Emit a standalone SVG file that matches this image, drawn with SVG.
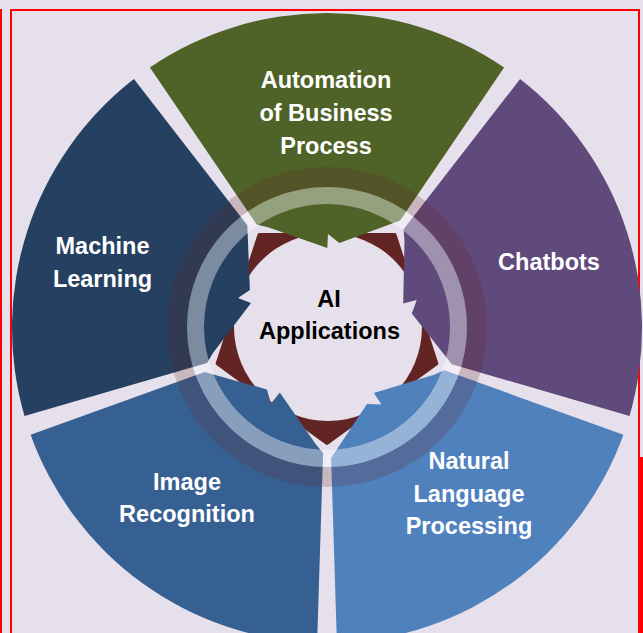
<svg xmlns="http://www.w3.org/2000/svg" width="643" height="633" viewBox="0 0 643 633">
<style>
.lbl{font-family:"Liberation Sans",Arial,sans-serif;font-weight:bold;font-size:23.5px;fill:#ffffff;text-anchor:middle}
.hubtxt{font-family:"Liberation Sans",Arial,sans-serif;font-weight:bold;font-size:23.5px;fill:#000000;text-anchor:middle}
.frame{fill:none;stroke:#ff0000;stroke-width:2}
</style>
<rect x="0" y="0" width="643" height="633" fill="#E6E0EC"/>
<g id="frame">
<rect class="frame" x="11" y="10" width="628" height="640"/>
<line class="frame" x1="1" y1="9" x2="1" y2="633"/>
<rect x="639" y="457" width="4" height="176" fill="#ff0000"/>
</g>
<g id="hub">
<polygon points="436.4,363.5 327,443 217.6,363.5 259.4,235 394.6,235" fill="#632523" stroke="#632523" stroke-width="4" stroke-linejoin="round"/>
<circle cx="328" cy="327" r="94" fill="#E6E0EC"/>
<text class="hubtxt" x="329" y="307">AI</text>
<text class="hubtxt" x="329.5" y="339">Applications</text>
</g>
<g id="machine-learning">
<path d="M24.5,415.9 A315,315 0 0 1 133.9,79.1 L247.3,225.3 L249.9,289.9 L237.9,298 L251,303 L213,353.1 L207,362.9 Z" fill="#254061"/>
<text class="lbl" x="102.5" y="253.5">Machine</text>
<text class="lbl" x="102.5" y="286.5">Learning</text>
</g>
<g id="automation">
<path d="M149.9,67.5 A315,315 0 0 1 504.1,67.5 L400.1,220.5 L339.4,242.9 L328,234 L327.3,248 L268,227.3 L256.7,224.6 Z" fill="#4F6228"/>
<text class="lbl" x="326" y="88">Automation</text>
<text class="lbl" x="326" y="120.5">of Business</text>
<text class="lbl" x="326" y="153.5">Process</text>
</g>
<g id="chatbots">
<path d="M520.1,79.1 A315,315 0 0 1 629.5,415.9 L451.8,364.3 L411.8,313.5 L416.7,299.9 L403.2,303.5 L404.5,240.8 L403.6,229.2 Z" fill="#604A7B"/>
<text class="lbl" x="549" y="270">Chatbots</text>
</g>
<g id="nlp">
<path d="M623.4,434.7 A315,315 0 0 1 336.9,642.8 L331.1,457.9 L367,404.1 L381.5,404.6 L373.8,392.9 L433.9,374.7 L444.6,370.3 Z" fill="#4F81BD"/>
<text class="lbl" x="469" y="469">Natural</text>
<text class="lbl" x="469" y="501.5">Language</text>
<text class="lbl" x="469" y="533.5">Processing</text>
</g>
<g id="image-recognition">
<path d="M317.1,642.8 A315,315 0 0 1 30.6,434.7 L204.7,372 L266.9,389.5 L271,403.5 L279.8,392.6 L315.6,444.1 L323.1,452.9 Z" fill="#376092"/>
<text class="lbl" x="187" y="490">Image</text>
<text class="lbl" x="187" y="522">Recognition</text>
</g>
<g id="ring">
<circle cx="327" cy="327" r="150" fill="none" stroke="#632523" stroke-opacity="0.22" stroke-width="20"/>
<circle cx="327" cy="327" r="131.5" fill="none" stroke="#ffffff" stroke-opacity="0.4" stroke-width="17"/>
</g>
</svg>
